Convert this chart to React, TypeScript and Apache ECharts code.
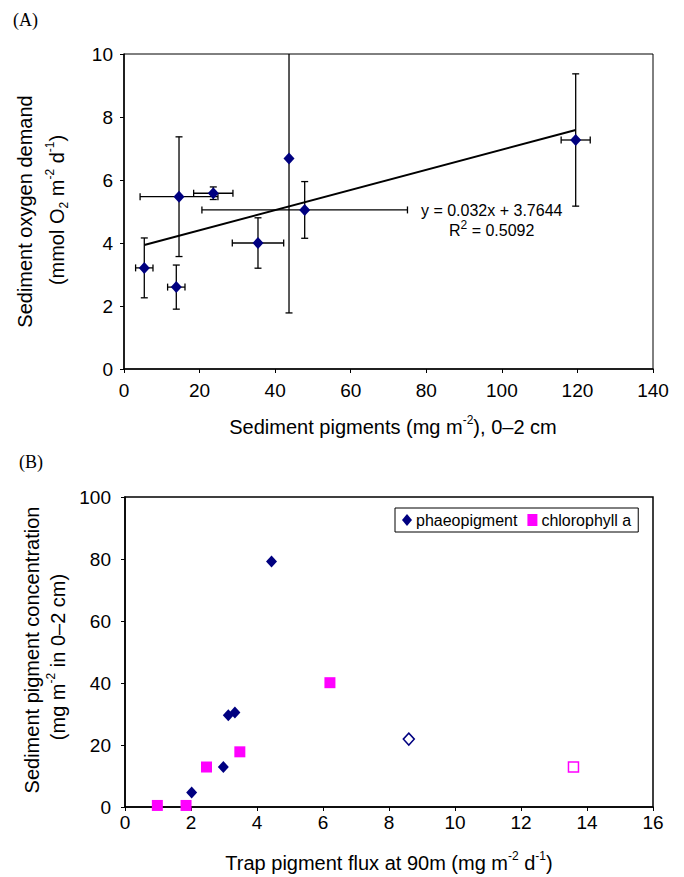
import React, { useEffect, useRef } from "react";
import * as echarts from "echarts";

// ---- Panel (A) data ----
const sedPigX = [5.37, 13.84, 14.56, 23.63, 35.46, 43.67, 47.82, 119.54];
const oxyDemandY = [3.21, 2.6, 5.47, 5.58, 4.0, 6.68, 5.05, 7.27];
const sedPigXErr = [2.3, 2.3, 10.3, 5.2, 6.8, 0, 27.2, 3.85];
const oxyDemandYErr = [0.95, 0.7, 1.9, 0.2, 0.8, 4.9, 0.9, 2.1];
const trendSlope = 0.032;
const trendIntercept = 3.7644;
const equationText = "y = 0.032x + 3.7644";
const r2Text = "0.5092";

// ---- Panel (B) data ----
const phaeoX = [4.44, 3.13, 3.33, 2.98, 2.02];
const phaeoY = [79.2, 29.6, 30.5, 12.9, 4.65];
const phaeoOutlier = [8.6, 21.9];
const chlX = [0.98, 1.85, 2.47, 3.48, 6.21];
const chlY = [0.5, 0.5, 12.9, 17.8, 40.1];
const chlOutlier = [13.59, 12.9];

const NAVY = "#000080";
const MAGENTA = "#FF00FF";
const SANS = "'Liberation Sans', Arial, sans-serif";
const SERIF = "'Liberation Serif', 'Times New Roman', serif";

const richSup = {
  sup: { fontSize: 12, lineHeight: 12, verticalAlign: "top", fill: "#000", fontFamily: SANS },
  sub: { fontSize: 12, lineHeight: 12, verticalAlign: "bottom", fill: "#000", fontFamily: SANS },
};

function txt(text: string, x: number, y: number, size: number, opts: any = {}) {
  return {
    type: "text",
    x,
    y,
    rotation: opts.rotation || 0,
    style: {
      text,
      fontSize: size,
      fontFamily: opts.family || SANS,
      fill: "#000",
      align: opts.align || "center",
      verticalAlign: "middle",
      lineHeight: opts.lineHeight || size + 6,
      rich: richSup,
    },
  };
}

export default function App() {
  const ref = useRef<HTMLDivElement>(null);
  useEffect(() => {
    if (!ref.current) return;
    const chart = echarts.init(ref.current, null, { renderer: "svg" });

    const errData = sedPigX.map((x, i) => [x, oxyDemandY[i], sedPigXErr[i], oxyDemandYErr[i]]);
    const xMin = Math.min(...sedPigX);
    const xMax = Math.max(...sedPigX);
    const trend = [
      [xMin, trendSlope * xMin + trendIntercept],
      [xMax, trendSlope * xMax + trendIntercept],
    ];

    const axisCommon = {
      axisLine: { show: true, onZero: false, lineStyle: { color: "#000", width: 1.5 } },
      axisTick: { show: true, inside: false, length: 4, lineStyle: { color: "#000", width: 1 } },
      splitLine: { show: false },
      axisLabel: { color: "#000", fontSize: 19, fontFamily: SANS },
    };

    const option: any = {
      animation: false,
      backgroundColor: "#fff",
      grid: [
        { left: 124, top: 54, width: 529, height: 315, show: true, borderColor: "#000", borderWidth: 1, backgroundColor: "transparent" },
        { left: 125, top: 497, width: 528, height: 310, show: true, borderColor: "#000", borderWidth: 1.5, backgroundColor: "transparent" },
      ],
      xAxis: [
        { ...axisCommon, gridIndex: 0, type: "value", min: 0, max: 140, interval: 20, axisLabel: { ...axisCommon.axisLabel, margin: 12 } },
        { ...axisCommon, gridIndex: 1, type: "value", min: 0, max: 16, interval: 2, axisLabel: { ...axisCommon.axisLabel, margin: 6 } },
      ],
      yAxis: [
        { ...axisCommon, gridIndex: 0, type: "value", min: 0, max: 10, interval: 2, axisLabel: { ...axisCommon.axisLabel, margin: 11 } },
        { ...axisCommon, gridIndex: 1, type: "value", min: 0, max: 100, interval: 20, axisLabel: { ...axisCommon.axisLabel, margin: 14 } },
      ],
      legend: {
        data: [
          { name: "phaeopigment", icon: "diamond" },
          { name: "chlorophyll a", icon: "rect" },
        ],
        left: 395,
        top: 508,
        orient: "horizontal",
        itemWidth: 10,
        itemHeight: 12,
        itemGap: 10,
        padding: [4, 7, 4, 7],
        borderColor: "#000",
        borderWidth: 1,
        backgroundColor: "#fff",
        textStyle: { color: "#000", fontSize: 16, fontFamily: SANS, padding: [0, 0, 0, -1] },
      },
      series: [
        {
          type: "custom",
          xAxisIndex: 0,
          yAxisIndex: 0,
          clip: true,
          data: errData,
          encode: { x: 0, y: 1 },
          renderItem: (params: any, api: any) => {
            const x = api.value(0);
            const y = api.value(1);
            const xe = api.value(2);
            const ye = api.value(3);
            const cap = 3.5;
            const st = { stroke: "#000", lineWidth: 1.3 };
            const children: any[] = [];
            if (ye > 0) {
              const t = api.coord([x, y + ye]);
              const b = api.coord([x, y - ye]);
              children.push({ type: "line", shape: { x1: t[0], y1: t[1], x2: b[0], y2: b[1] }, style: st });
              children.push({ type: "line", shape: { x1: t[0] - cap, y1: t[1], x2: t[0] + cap, y2: t[1] }, style: st });
              children.push({ type: "line", shape: { x1: b[0] - cap, y1: b[1], x2: b[0] + cap, y2: b[1] }, style: st });
            }
            if (xe > 0) {
              const l = api.coord([x - xe, y]);
              const r = api.coord([x + xe, y]);
              children.push({ type: "line", shape: { x1: l[0], y1: l[1], x2: r[0], y2: r[1] }, style: st });
              children.push({ type: "line", shape: { x1: l[0], y1: l[1] - cap, x2: l[0], y2: l[1] + cap }, style: st });
              children.push({ type: "line", shape: { x1: r[0], y1: r[1] - cap, x2: r[0], y2: r[1] + cap }, style: st });
            }
            return { type: "group", children };
          },
          z: 2,
        },
        {
          type: "line",
          xAxisIndex: 0,
          yAxisIndex: 0,
          data: trend,
          symbol: "none",
          lineStyle: { color: "#000", width: 2 },
          z: 3,
        },
        {
          type: "scatter",
          xAxisIndex: 0,
          yAxisIndex: 0,
          symbol: "diamond",
          symbolSize: [11, 12],
          data: sedPigX.map((x, i) => [x, oxyDemandY[i]]),
          itemStyle: { color: NAVY, opacity: 1 },
          z: 4,
        },
        {
          name: "phaeopigment",
          type: "scatter",
          xAxisIndex: 1,
          yAxisIndex: 1,
          symbol: "diamond",
          symbolSize: [11, 12],
          itemStyle: { color: NAVY, opacity: 1 },
          data: [
            ...phaeoX.map((x, i) => [x, phaeoY[i]]),
            { value: phaeoOutlier, itemStyle: { color: "#fff", borderColor: NAVY, borderWidth: 1.5, opacity: 1 } },
          ],
          z: 4,
        },
        {
          name: "chlorophyll a",
          type: "scatter",
          xAxisIndex: 1,
          yAxisIndex: 1,
          symbol: "rect",
          symbolSize: 11,
          itemStyle: { color: MAGENTA, opacity: 1 },
          data: [
            ...chlX.map((x, i) => [x, chlY[i]]),
            { value: chlOutlier, itemStyle: { color: "#fff", borderColor: MAGENTA, borderWidth: 1.5, opacity: 1 }, symbolSize: 10 },
          ],
          z: 4,
        },
      ],
      graphic: [
        txt("(A)", 13, 19.5, 18, { family: SERIF, align: "left" }),
        txt("(B)", 19, 462, 18, { family: SERIF, align: "left" }),
        txt("Sediment oxygen demand", 25, 211.5, 20, { rotation: Math.PI / 2 }),
        txt("(mmol O{sub|2} m{sup|-2} d{sup|-1})", 57, 210, 20, { rotation: Math.PI / 2 }),
        txt("Sediment pigments (mg m{sup|-2}), 0\u20132 cm", 393, 427, 20),
        txt(equationText, 491.7, 210, 16),
        txt("R{sup|2} = " + r2Text, 491.7, 230, 16),
        txt("Sediment pigment concentration", 31.7, 650, 20, { rotation: Math.PI / 2 }),
        txt("(mg m{sup|-2} in 0\u20132 cm)", 58, 657, 20, { rotation: Math.PI / 2 }),
        txt("Trap pigment flux at 90m (mg m{sup|-2} d{sup|-1})", 389, 863, 20),
      ],
    };
    chart.setOption(option);
    return () => chart.dispose();
  }, []);
  return (
    <div
      ref={ref}
      style={{ position: "fixed", left: 0, top: 0, width: 684, height: 877, background: "#fff" }}
    />
  );
}
